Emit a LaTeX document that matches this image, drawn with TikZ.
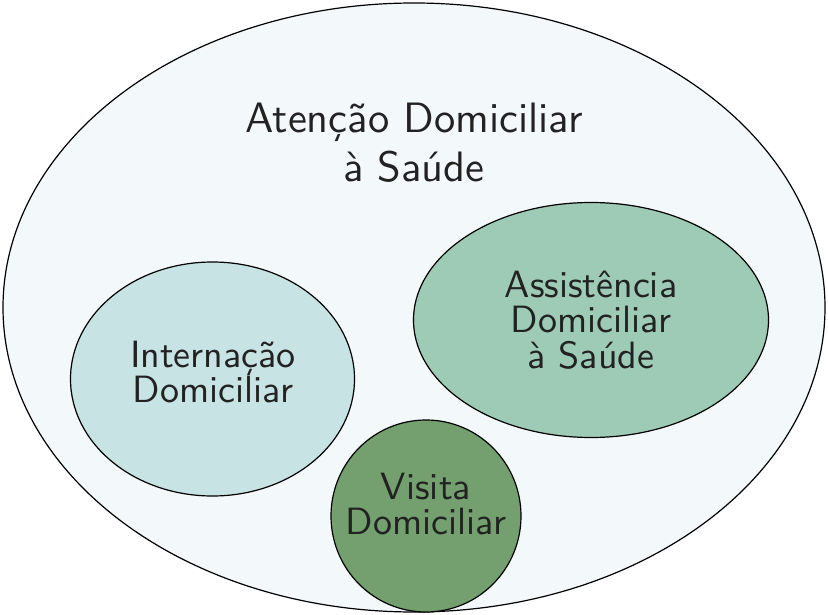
\documentclass[tikz,border=0pt]{standalone}
\usetikzlibrary{shapes.geometric}
\definecolor{outerfill}{HTML}{F3F8FB}
\definecolor{intfill}{HTML}{C8E3E4}
\definecolor{assfill}{HTML}{9ECBB6}
\definecolor{visfill}{HTML}{73A06E}
\definecolor{txt}{HTML}{222222}
\begin{document}
\begin{tikzpicture}[x=1pt,y=-1pt,
  blob/.style={ellipse,draw=black,line width=1.2pt,inner sep=0pt},
  lblbase/.style={text=txt,align=center,transform shape,inner sep=0pt},
  lbl/.style={lblbase,font=\sffamily\fontsize{10}{9.4}\selectfont,scale=3.8},
  lblout/.style={lblbase,font=\sffamily\fontsize{10}{11.6}\selectfont,scale=4.25}]
\useasboundingbox (0,0) rectangle (828,615);
\node[blob,fill=outerfill,minimum width=822,minimum height=609] (outer) at (414,307.5) {};
\node[blob,fill=intfill,minimum width=284,minimum height=234] (int) at (212.5,379) {};
\node[blob,fill=assfill,minimum width=355,minimum height=235] (ass) at (591,320) {};
\node[blob,fill=visfill,minimum width=190,minimum height=192] (vis) at (426,516) {};
\node[lblout] (tout) at (414,143) {Atenção Domiciliar\\à Saúde};
\node[lbl] (tint) at (213,372) {Internação\\Domiciliar};
\node[lbl] (tass) at (591,320) {Assistência\\Domiciliar\\à Saúde};
\node[lbl] (tvis) at (426,504) {Visita\\Domiciliar};
\end{tikzpicture}
\end{document}
